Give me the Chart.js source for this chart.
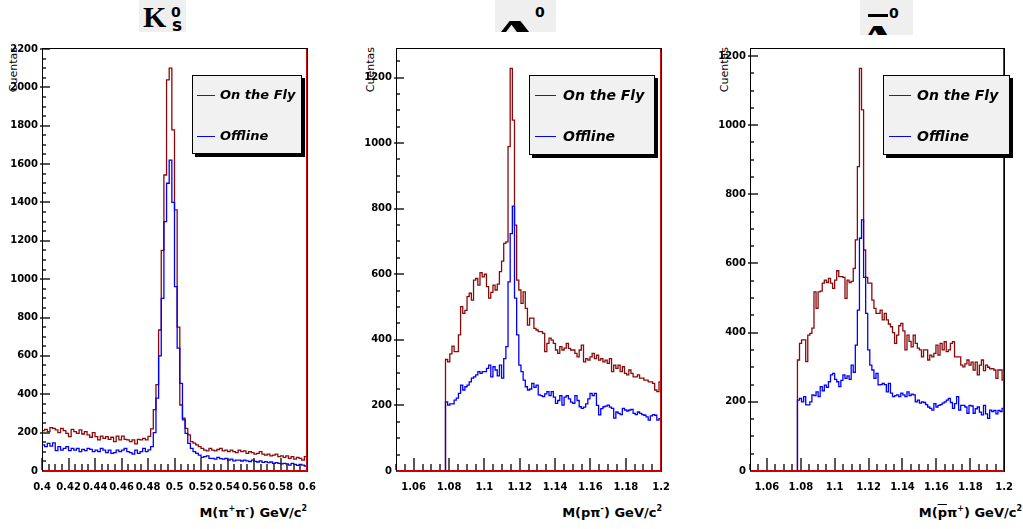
<!DOCTYPE html>
<html><head><meta charset="utf-8">
<script src="https://cdn.jsdelivr.net/npm/chart.js@4.4.1/dist/chart.umd.min.js"></script>
<style>
html,body{margin:0;padding:0;background:#fff;width:1023px;height:529px;overflow:hidden;position:relative;font-family:'DejaVu Sans',sans-serif;color:#000}
canvas{position:absolute;top:0}
.tbox{position:absolute;top:0;background:#efefef;overflow:hidden}
.tbox span{position:absolute;line-height:1;white-space:nowrap}
.ytitle{position:absolute;top:47px;font:11px 'DejaVu Sans';writing-mode:vertical-rl;transform:rotate(180deg);white-space:nowrap;color:#000}
.xtitle{position:absolute;top:505px;font:bold 13px 'DejaVu Sans';white-space:nowrap}
.xtitle sup{font-size:8px;vertical-align:6px;line-height:0}
.leg{position:absolute;box-sizing:border-box;border:1px solid #000;background:#f1f1f1;box-shadow:3px 3px 0 #000}
.leg .row{position:absolute;left:0;right:0;height:18px}
.leg .ln{position:absolute;top:9px;height:1px}
.leg .tx{position:absolute;top:0;line-height:18px;font-weight:bold;font-style:italic;font-family:'DejaVu Sans';white-space:nowrap}
</style></head><body>

<div class="tbox" style="left:139px;width:47px;height:32px">
  <span style="left:4px;top:0;font:bold 30px 'Liberation Serif'">K</span>
  <span style="left:32px;top:4px;font:bold 14px 'DejaVu Sans'">0</span>
  <span style="left:33px;top:15px;font:bold 17px 'DejaVu Sans'">s</span>
</div>
<div class="tbox" style="left:495px;width:61px;height:32px">
  <span style="left:-7px;top:12px;font:bold 36px 'Liberation Serif';transform:scaleX(2.1);transform-origin:0 0">Λ</span>
  <span style="left:40px;top:4px;font:bold 14px 'DejaVu Sans'">0</span>
</div>
<div class="tbox" style="left:860px;width:53px;height:35px">
  <div style="position:absolute;left:8px;top:14px;width:20px;height:3px;background:#000"></div>
  <span style="left:-3px;top:17px;font:bold 36px 'Liberation Serif';transform:scaleX(1.6);transform-origin:0 0">Λ</span>
  <span style="left:29px;top:5px;font:bold 14px 'DejaVu Sans'">0</span>
</div>

<div class="ytitle" style="left:7px">Cuentas</div>
<div class="ytitle" style="left:364px">Cuentas</div>
<div class="ytitle" style="left:718px">Cuentas</div>

<div class="xtitle" style="right:716px">M(π<sup>+</sup>π<sup>-</sup>) GeV/c<sup>2</sup></div>
<div class="xtitle" style="right:361px">M(pπ<sup>-</sup>) GeV/c<sup>2</sup></div>
<div class="xtitle" style="right:1px">M(<span style="text-decoration:overline">p</span>π<sup>+</sup>) GeV/c<sup>2</sup></div>

<script>
// ---------- DATA ----------
const seriesLabels = ['On the Fly', 'Offline'];

// K0s panel: 100 bins from 0.4 to 0.6
const k0BinStart = 0.4;
const k0BinWidth = 0.002;
const k0OnTheFly = [
 210,217,205,226,222,214,200,222,210,196,
 179,217,205,196,214,193,205,188,176,200,
 179,162,182,170,179,165,176,153,182,162,
 182,165,162,153,162,141,165,162,170,162,
 180,220,320,450,735,1150,1543,2039,2100,1778,
 1361,750,344,275,222,188,153,145,136,127,
 118,109,105,118,109,105,112,118,105,109,
 101,109,101,96,109,101,105,92,101,96,
 88,92,101,88,83,88,79,83,88,75,
 79,71,79,66,75,62,71,66,57,75];
const k0Offline = [
 136,127,144,130,147,106,127,109,118,127,
 106,118,109,118,101,113,106,118,113,101,
 109,101,118,109,96,109,92,96,109,101,
 109,118,101,96,88,109,92,101,118,101,
 110,127,200,380,600,900,1300,1500,1621,1400,
 961,640,457,266,196,144,118,101,92,83,
 71,75,79,66,66,62,71,64,62,66,
 57,62,53,57,57,52,57,53,49,57,
 50,47,53,45,49,44,47,40,44,40,
 37,40,37,31,40,35,29,35,31,26];
const k0XTicks = [0.4,0.42,0.44,0.46,0.48,0.5,0.52,0.54,0.56,0.58,0.6];
const k0XLabels = ['0.4','0.42','0.44','0.46','0.48','0.5','0.52','0.54','0.56','0.58','0.6'];
const k0YTicks = [0,200,400,600,800,1000,1200,1400,1600,1800,2000,2200];

// Lambda panel: 100 bins from 1.078 to 1.2
const lamBinStart = 1.078;
const lamBinWidth = 0.00122;
const lamOnTheFly = [
 340,333,357,381,364,364,415,501,481,490,
 532,542,521,582,587,567,605,592,600,562,
 527,545,567,552,570,608,640,694,699,989,
 1228,1070,750,582,552,511,546,496,445,466,
 466,435,430,425,425,420,364,389,405,399,
 389,369,359,379,369,375,389,374,369,369,
 359,348,369,384,333,343,338,348,359,343,
 353,338,343,333,338,328,343,303,323,313,
 323,303,318,298,293,308,298,287,287,293,
 283,283,277,277,272,272,267,247,242,272];
const lamOffline = [
 211,201,205,205,216,222,237,262,247,257,
 262,272,283,287,293,303,298,303,303,313,
 323,287,318,308,290,323,283,343,379,577,
 724,808,527,415,323,303,277,257,247,250,
 267,255,262,232,230,227,235,242,230,242,
 225,206,215,230,201,225,230,220,210,206,
 230,215,196,191,195,205,220,237,230,237,
 200,171,190,196,198,201,195,191,161,180,
 176,172,191,186,183,186,188,176,172,180,
 176,172,170,165,155,168,172,170,155,160];

// Anti-Lambda panel: 100 bins from 1.078 to 1.2
const alamOnTheFly = [
 321,369,379,379,316,393,398,413,518,470,
 518,520,543,552,545,557,543,528,552,579,
 562,562,560,499,552,545,548,586,668,880,
 1164,1044,639,560,543,543,494,470,456,456,
 465,437,456,437,425,417,400,369,393,420,
 427,405,350,393,375,359,393,369,355,350,
 330,350,350,321,335,330,340,364,335,369,
 350,374,345,350,369,374,330,330,330,306,
 301,310,321,306,315,292,315,278,306,321,
 290,306,300,295,296,292,268,292,292,263];
const alamOffline = [
 205,210,200,215,191,191,200,220,218,229,
 215,244,232,248,242,258,278,282,265,258,
 244,262,278,268,275,265,306,285,364,465,
 673,726,560,456,350,306,292,268,282,249,
 250,253,250,229,253,225,215,218,220,215,
 225,220,215,229,218,222,220,200,205,196,
 200,198,192,185,181,176,195,185,190,192,
 196,200,205,210,198,181,195,215,176,190,
 190,185,167,190,188,167,180,185,170,162,
 190,165,152,176,172,175,165,175,172,181];

const lamXTicks = [1.06,1.08,1.1,1.12,1.14,1.16,1.18,1.2];
const lamXLabels = ['1.06','1.08','1.1','1.12','1.14','1.16','1.18','1.2'];
const lamYTicks = [0,200,400,600,800,1000,1200];

// ---------- STYLE / LAYOUT ----------
const colOnTheFly = '#8a0a0a';
const colOffline = '#0000ff';
const H = 529;
const PLOT_TOP = 48, PLOT_BOTTOM = 471;

const panels = [
  {left:0, width:340, plotL:42, plotR:307, xMin:0.4, xMax:0.6, yMax:2205,
   xTicks:k0XTicks, xLabels:k0XLabels, yTicks:k0YTicks, xMinor:0.005, yMinor:50,
   binStart:k0BinStart, binWidth:k0BinWidth, a:k0OnTheFly, b:k0Offline,
   leg:{l:192,t:75,w:110,h:79,lo:4,ll:18,to:27,fs:13}},
  {left:340, width:340, plotL:396, plotR:662, xMin:1.05, xMax:1.2, yMax:1290,
   xTicks:lamXTicks, xLabels:lamXLabels, yTicks:lamYTicks, xMinor:0.005, yMinor:50,
   binStart:lamBinStart, binWidth:lamBinWidth, a:lamOnTheFly, b:lamOffline,
   leg:{l:529,t:75,w:126,h:80,lo:5,ll:21,to:33,fs:14}},
  {left:680, width:343, plotL:750, plotR:1016, xMin:1.05, xMax:1.2, yMax:1223,
   xTicks:lamXTicks, xLabels:lamXLabels, yTicks:lamYTicks, xMinor:0.005, yMinor:50,
   binStart:lamBinStart, binWidth:lamBinWidth, a:alamOnTheFly, b:alamOffline,
   leg:{l:883,t:75,w:127,h:80,lo:5,ll:22,to:33,fs:14}}
];

function histPoints(start, width, values, xmin) {
  const pts = [];
  if (xmin < start - 1e-9) pts.push({x: xmin, y: 0});
  values.forEach((v, i) => pts.push({x: start + i * width, y: v}));
  pts.push({x: start + values.length * width, y: values[values.length - 1]});
  return pts;
}

function makeFramePlugin(o) {
  return {
    id: 'frameTicks' + o.left,
    afterDraw(chart) {
      const ctx = chart.ctx;
      const a = chart.chartArea;
      const xs = chart.scales.x, ys = chart.scales.y;
      const L = Math.round(a.left), R = Math.round(a.right), T = Math.round(a.top), B = Math.round(a.bottom);
      ctx.save();
      // bottom baseline (red)
      ctx.fillStyle = '#d00000';
      ctx.fillRect(L, B - 1, R - L, 2);
      // ticks
      ctx.strokeStyle = '#222222';
      ctx.lineWidth = 1.5;
      ctx.beginPath();
      const nx = Math.round((o.xMax - o.xMin) / o.xMinor);
      for (let k = 0; k <= nx; k++) {
        const v = o.xMin + k * o.xMinor;
        let major = false;
        for (const t of o.xTicks) if (Math.abs(t - v) < 1e-7) major = true;
        const px = Math.round(xs.getPixelForValue(v));
        const len = major ? 12 : 6;
        ctx.moveTo(px, B - 1);
        ctx.lineTo(px, B - 1 - len);
      }
      const ny = Math.floor(o.yMax / o.yMinor);
      for (let k = 1; k <= ny; k++) {
        const v = k * o.yMinor;
        const major = o.yTicks.indexOf(v) >= 0;
        const py = Math.round(ys.getPixelForValue(v));
        ctx.moveTo(L - (major ? 2 : 0), py);
        ctx.lineTo(L + (major ? 8 : 4), py);
      }
      ctx.stroke();
      // frame
      ctx.fillStyle = '#000000';
      ctx.fillRect(L, T, 1, B - T);
      ctx.fillRect(L, T, R - L + 1, 1);
      ctx.fillRect(R, T, 1, B - T + 1);
      ctx.fillStyle = '#e00000';
      ctx.fillRect(R - 1, T + 1, 1, B - T - 1);
      ctx.restore();
    }
  };
}

const tickFont = {family: 'DejaVu Sans', weight: 'bold', size: 10};

panels.forEach(p => {
  const cv = document.createElement('canvas');
  cv.width = p.width; cv.height = H;
  cv.style.left = p.left + 'px';
  cv.style.width = p.width + 'px'; cv.style.height = H + 'px';
  document.body.appendChild(cv);
  const yW = p.plotL - p.left;
  new Chart(cv, {
    type: 'line',
    data: {
      datasets: [
        {label: seriesLabels[0], data: histPoints(p.binStart, p.binWidth, p.a, p.xMin),
         borderColor: colOnTheFly, borderWidth: 1.3, stepped: 'before', pointRadius: 0, fill: false, order: 2},
        {label: seriesLabels[1], data: histPoints(p.binStart, p.binWidth, p.b, p.xMin),
         borderColor: colOffline, borderWidth: 1.3, stepped: 'before', pointRadius: 0, fill: false, order: 1}
      ]
    },
    options: {
      responsive: false, animation: false, devicePixelRatio: 1,
      layout: {padding: {left: 0, top: PLOT_TOP, right: p.left + p.width - p.plotR, bottom: 0}},
      plugins: {legend: {display: false}, tooltip: {enabled: false}},
      scales: {
        x: {type: 'linear', min: p.xMin, max: p.xMax,
            grid: {display: false, drawTicks: false}, border: {display: false},
            afterBuildTicks: s => { s.ticks = p.xTicks.map(v => ({value: v})); },
            afterFit: s => { s.height = H - PLOT_BOTTOM; },
            ticks: {autoSkip: false, maxRotation: 0, minRotation: 0, padding: 10, color: '#000', font: tickFont,
                    callback: (v, i) => p.xLabels[i]}},
        y: {type: 'linear', min: 0, max: p.yMax,
            grid: {display: false, drawTicks: false}, border: {display: false},
            afterBuildTicks: s => { s.ticks = p.yTicks.map(v => ({value: v})); },
            afterFit: s => { s.width = yW; },
            ticks: {autoSkip: false, padding: 4, color: '#000', font: tickFont,
                    callback: v => String(v)}}
      }
    },
    plugins: [makeFramePlugin(p)]
  });

  // legend box
  const L = p.leg;
  const box = document.createElement('div');
  box.className = 'leg';
  box.style.cssText = `left:${L.l}px;top:${L.t}px;width:${L.w}px;height:${L.h}px`;
  [[seriesLabels[0], colOnTheFly, 10], [seriesLabels[1], colOffline, 51]].forEach(([txt, col, top]) => {
    const r = document.createElement('div');
    r.className = 'row'; r.style.top = top + 'px';
    const ln = document.createElement('div');
    ln.className = 'ln';
    ln.style.cssText = `left:${L.lo}px;width:${L.ll}px;background:${col}`;
    const tx = document.createElement('div');
    tx.className = 'tx';
    tx.style.cssText = `left:${L.to}px;font-size:${L.fs}px`;
    tx.textContent = txt;
    r.appendChild(ln); r.appendChild(tx);
    box.appendChild(r);
  });
  document.body.appendChild(box);
});
</script>
</body></html>
